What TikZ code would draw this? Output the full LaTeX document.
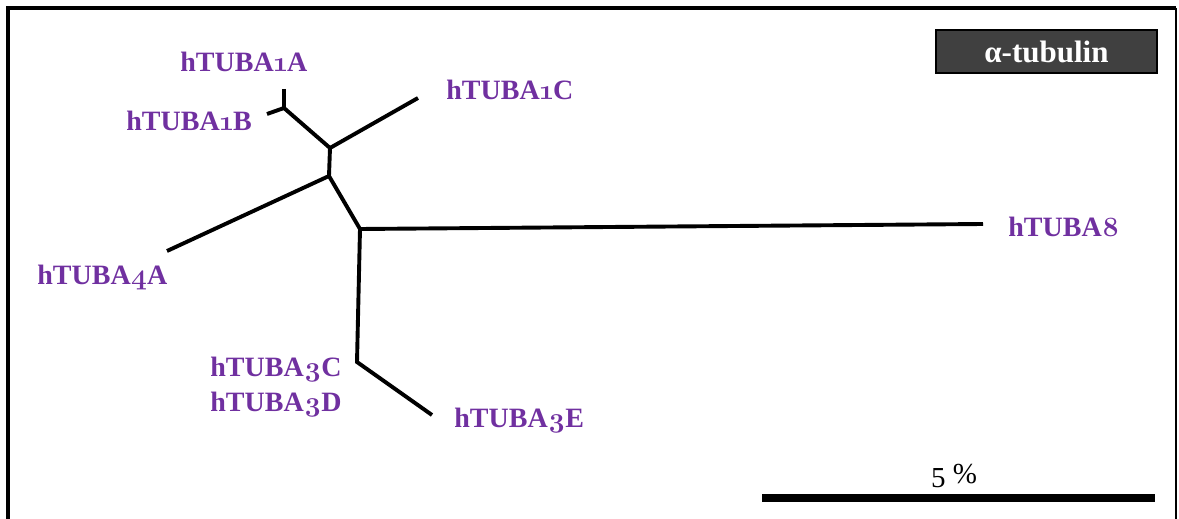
\documentclass[tikz,border=0pt]{standalone}
\usepackage{fontspec}
\setmainfont{Liberation Serif}
\newfontfamily\osf{Latin Modern Roman}[Numbers=OldStyle]
\usetikzlibrary{positioning}
\definecolor{taxpurple}{HTML}{7030A0}
\definecolor{tagdark}{HTML}{404040}
\newcommand{\osn}[1]{{\osf\bfseries #1}}
\tikzset{
  branch/.style={line width=1.95pt,draw=black},
  frameline/.style={line width=2pt,draw=black},
  taxon/.style={font=\bfseries\fontsize{14}{17.5}\selectfont,text=taxpurple,
                inner sep=0pt,anchor=base west},
  tagbox/.style={draw=black,line width=0.6pt,fill=tagdark,text=white,
                 minimum width=110.5pt,minimum height=21.5pt,inner sep=0pt,
                 font=\bfseries\fontsize{15.5}{17}\selectfont},
  scalebar/.style={line width=4pt,draw=black},
  scalelbl/.style={font=\fontsize{14.5}{16}\selectfont,inner sep=0pt,anchor=base},
}

\begin{document}
\begin{tikzpicture}[x=0.5pt,y=-0.5pt]
  \useasboundingbox (0,0) rectangle (1179,519);

  % open frame: heavy top and left, thin right
  \draw[frameline] (8,519) -- (8,8) -- (1176,8);
  \draw[frameline,line width=1pt] (1176,8) -- (1176,519);

  % inner joints of the unrooted tree
  \coordinate (j1) at (284,108);
  \coordinate (j2) at (330,148);
  \coordinate (j3) at (329,176);
  \coordinate (j4) at (360,229);
  \coordinate (j5) at (357,362);

  % branch tips
  \coordinate (t1A) at (284,89);
  \coordinate (t1B) at (267,114);
  \coordinate (t1C) at (418,98);
  \coordinate (t4A) at (167,251);
  \coordinate (t8)  at (983,224);
  \coordinate (t3E) at (432,415);

  \draw[branch] (t1A) -- (j1);
  \draw[branch] (t1B) -- (j1) -- (j2) -- (j3) -- (j4) -- (t8);
  \draw[branch] (j2) -- (t1C);
  \draw[branch] (j3) -- (t4A);
  \draw[branch] (j4) -- (j5) -- (t3E);

  % taxon labels
  \node[taxon] (l1A) at (180,72)  {hTUBA\osn{1}A};
  \node[taxon] (l1B) at (126,131) {hTUBA\osn{1}B};
  \node[taxon] (l1C) at (446,100) {hTUBA\osn{1}C};
  \node[taxon] (l8)  at (1008,236) {hTUBA\osn{8}};
  \node[taxon] (l4A) at (37,285)  {hTUBA\osn{4}A};
  \node[taxon] (l3C) at (210,376) {hTUBA\osn{3}C};
  \node[taxon] (l3D) at (210,411) {hTUBA\osn{3}D};
  \node[taxon] (l3E) at (454,427) {hTUBA\osn{3}E};

  % protein tag
  \node[tagbox] (tag) at (1046.5,51.5) {α-tubulin};

  % scale bar
  \coordinate (barL) at (762,498);
  \coordinate (barR) at (1155,498);
  \draw[scalebar] (barL) -- (barR);
  \node[scalelbl] (barlbl) at (954,487) {5~\raisebox{2pt}{\%}};
\end{tikzpicture}
\end{document}
